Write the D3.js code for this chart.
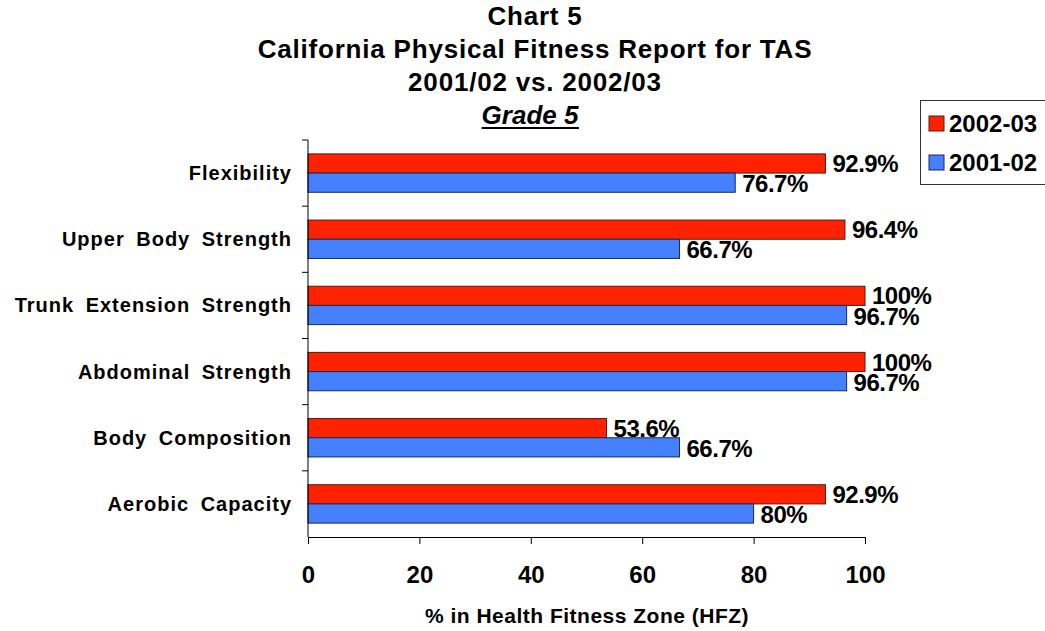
<!DOCTYPE html>
<html>
	<head>
		<script src="https://d3js.org/d3.v7.min.js"></script>
		<style>
			body {
				margin: 0;
				background: #fff;
			}
			text {
				font-family: 'Liberation Sans', Arial, sans-serif;
				font-weight: bold;
				fill: #000;
			}
			.cat {
				font-size: 20px;
				letter-spacing: 1px;
				word-spacing: 5px;
			}
			.val {
				font-size: 24px;
				letter-spacing: -0.5px;
			}
		</style>
	</head>

	<body>
		<svg id="chart" width="1045" height="631"></svg>
		<script>
			const categories = ['Flexibility', 'Upper Body Strength', 'Trunk Extension Strength', 'Abdominal Strength', 'Body Composition', 'Aerobic Capacity'];
			const seriesNames = ['2002-03', '2001-02'];
			const values0203 = [92.9, 96.4, 100, 100, 53.6, 92.9];
			const values0102 = [76.7, 66.7, 96.7, 96.7, 66.7, 80];
			const xTicks = [0, 20, 40, 60, 80, 100];
			const titleLines = ['Chart 5', 'California Physical Fitness Report for TAS', '2001/02 vs. 2002/03'];
			const subTitle = 'Grade 5';
			const xTitle = '% in Health Fitness Zone (HFZ)';

			const colors = { '2002-03': '#ff2200', '2001-02': '#4580ff' };
			const strokes = { '2002-03': '#5a1a10', '2001-02': '#1a2a55' };

			const svg = d3.select('svg#chart');
			const margin = { top: 140, left: 308 };
			const titleX = 535;

			const x = d3.scaleLinear().domain([0, 100]).range([margin.left, 865]);
			const y0 = d3.scaleBand().domain(categories).range([margin.top, 537]).paddingInner(0.42).paddingOuter(0.21);
			const y1 = d3.scaleBand().domain(seriesNames).range([0, y0.bandwidth()]);

			const rows = categories.map((c, i) => ({
				cat: c,
				bars: [
					{ series: '2002-03', value: values0203[i] },
					{ series: '2001-02', value: values0102[i] }
				]
			}));

			// title
			const title = svg.append('g').attr('text-anchor', 'middle');
			title
				.selectAll('text.title')
				.data(titleLines)
				.join('text')
				.attr('class', 'title')
				.attr('x', titleX)
				.attr('y', (d, i) => 25 + i * 33)
				.style('font-size', '26px')
				.style('letter-spacing', '0.8px')
				.text((d) => d);
			const sub = title
				.append('text')
				.attr('x', titleX - 5)
				.attr('y', 124)
				.style('font-size', '26px')
				.style('font-style', 'italic')
				.text(subTitle);
			const sb = sub.node().getBBox();
			title
				.append('line')
				.attr('x1', sb.x)
				.attr('x2', sb.x + sb.width)
				.attr('y1', 128)
				.attr('y2', 128)
				.attr('stroke', '#000')
				.attr('stroke-width', 2);

			// bars
			const groups = svg
				.selectAll('g.row')
				.data(rows)
				.join('g')
				.attr('class', 'row')
				.attr('transform', (d) => 'translate(0,' + y0(d.cat) + ')');

			groups
				.selectAll('rect')
				.data((d) => d.bars)
				.join('rect')
				.attr('x', x(0))
				.attr('y', (d) => y1(d.series))
				.attr('width', (d) => x(d.value) - x(0))
				.attr('height', y1.bandwidth())
				.attr('fill', (d) => colors[d.series])
				.attr('stroke', (d) => strokes[d.series])
				.attr('stroke-width', 1);

			groups
				.selectAll('text.val')
				.data((d) => d.bars)
				.join('text')
				.attr('class', 'val')
				.attr('x', (d) => x(d.value) + 7)
				.attr('y', (d) => y1(d.series) + y1.bandwidth() - (d.series === '2002-03' ? 1 : 0))
				.text((d) => (Number.isInteger(d.value) ? d.value : d.value.toFixed(1)) + '%');

			// y axis
			const yAxis = svg.append('g');
			yAxis
				.append('line')
				.attr('x1', x(0))
				.attr('x2', x(0))
				.attr('y1', margin.top)
				.attr('y2', 537)
				.attr('stroke', '#000');
			const bounds = categories.map((c) => y0(c) - y0.step() * 0.21);
			yAxis
				.selectAll('line.tick')
				.data(bounds)
				.join('line')
				.attr('class', 'tick')
				.attr('x1', x(0) - 6)
				.attr('x2', x(0))
				.attr('y1', (d) => d)
				.attr('y2', (d) => d)
				.attr('stroke', '#000');
			yAxis
				.selectAll('text.cat')
				.data(categories)
				.join('text')
				.attr('class', 'cat')
				.attr('text-anchor', 'end')
				.attr('x', 292)
				.attr('y', (d) => y0(d) + y0.bandwidth() / 2 + 7)
				.text((d) => d);

			// x axis
			const xAxis = svg
				.append('g')
				.attr('transform', 'translate(0,537)')
				.call(d3.axisBottom(x).tickValues(xTicks).tickSize(7).tickPadding(22).tickFormat(d3.format('d')));
			xAxis.select('.domain').attr('stroke', '#000');
			xAxis.selectAll('.tick line').attr('stroke', '#000');
			xAxis
				.selectAll('.tick text')
				.attr('fill', '#000')
				.style('font-family', "'Liberation Sans', Arial, sans-serif")
				.style('font-weight', 'bold')
				.style('font-size', '24px');

			svg
				.append('text')
				.attr('x', 587)
				.attr('y', 623)
				.attr('text-anchor', 'middle')
				.style('font-size', '21px')
				.style('letter-spacing', '0.5px')
				.text(xTitle);

			// legend
			const legend = svg.append('g').attr('transform', 'translate(920,100)');
			legend.append('rect').attr('x', 0.5).attr('y', 0.5).attr('width', 140).attr('height', 84).attr('fill', '#fff').attr('stroke', '#333');
			const items = legend
				.selectAll('g.item')
				.data(seriesNames)
				.join('g')
				.attr('class', 'item')
				.attr('transform', (d, i) => 'translate(9,' + (16 + i * 39) + ')');
			items
				.append('rect')
				.attr('width', 15)
				.attr('height', 15)
				.attr('fill', (d) => colors[d])
				.attr('stroke', (d) => strokes[d]);
			items
				.append('text')
				.attr('x', 20)
				.attr('y', 16)
				.style('font-size', '24px')
				.text((d) => d);
		</script>
	</body>
</html>
